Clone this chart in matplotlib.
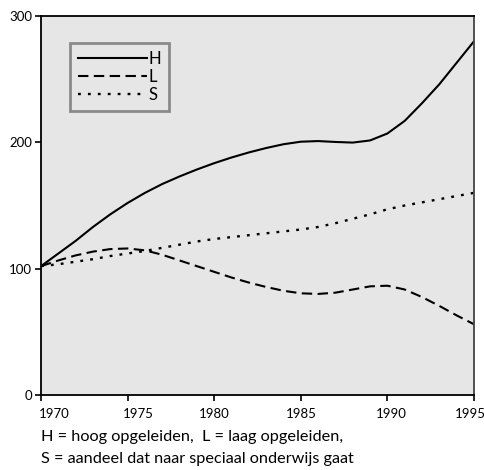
import matplotlib.pyplot as plt
import matplotlib.transforms as mtransforms

# jaren en indexcijfers (1970 = 100)
jaren = list(range(1970, 1996))
hoog = [102, 112, 122, 133, 143, 152, 160, 167, 173, 178.5, 183.5, 188, 192,
        195.5, 198.5, 200.5, 201, 200.3, 199.8, 201.5, 207, 217, 231, 246, 263, 280]
laag = [102, 106.5, 110.5, 113.5, 115.5, 116, 114.5, 111, 106.5, 102, 97.5, 93,
        89, 85.5, 82.5, 80.5, 80, 81, 83.5, 86, 86.5, 83.5, 77.5, 70.5, 63, 56]
speciaal = [102, 103.5, 105.5, 107.5, 110, 112, 114, 116.5, 119, 121.5, 123.5,
            125, 126.5, 128, 129.5, 131, 133, 136, 139.5, 143, 147, 150, 152.5,
            155, 157.5, 160]

xticks = [1970, 1975, 1980, 1985, 1990, 1995]
yticks = [0, 100, 200, 300]

plt.rcParams['font.family'] = ['Lato', 'DejaVu Sans']

fig = plt.figure(figsize=(4.85, 4.7), dpi=100)
ax = fig.add_axes([41 / 485, 1 - 395 / 470, 433 / 485, 379 / 470])
ax.set_facecolor('#e6e6e6')

ax.plot(jaren, hoog, color='black', lw=1.5, label='H')
ax.plot(jaren, laag, color='black', lw=1.5, linestyle=(0, (5, 2.6)), label='L')
ax.plot(jaren, speciaal, color='black', lw=1.7, linestyle=(0, (1.2, 3)), label='S')

ax.set_xlim(1970, 1995)
ax.set_ylim(0, 300)
ax.set_xticks(xticks)
ax.set_yticks(yticks)
ax.tick_params(axis='both', direction='out', length=4, width=1.2, labelsize=9.5)
ax.tick_params(axis='x', pad=5)
ax.tick_params(axis='y', pad=2.5)

# jaartallen iets verschoven onder de streepjes
verschuiving = [13, 11, 0, 0, 4, -4]
for lbl, dx in zip(ax.get_xticklabels(), verschuiving):
    lbl.set_transform(lbl.get_transform() +
                      mtransforms.ScaledTranslation(dx / 100, 0, fig.dpi_scale_trans))

for s in ax.spines.values():
    s.set_linewidth(1.3)
    s.set_color('black')
ax.spines['right'].set_color('#444444')

leg = ax.legend(loc='upper left', bbox_to_anchor=(0.067, 0.929), fancybox=False,
                framealpha=1, facecolor='#e6e6e6', edgecolor='#8a8a8a',
                fontsize=12, handlelength=4.1, handletextpad=0.1,
                labelspacing=0.1, borderpad=0.5, borderaxespad=0)
leg.get_frame().set_linewidth(2)

fig.text(41 / 485, 1 - 437 / 470, 'H = hoog opgeleiden,  L = laag opgeleiden,',
         fontsize=11.7, va='center', ha='left')
fig.text(41 / 485, 1 - 459 / 470, 'S = aandeel dat naar speciaal onderwijs gaat',
         fontsize=11.7, va='center', ha='left')

fig.savefig('out.png', dpi=100)
